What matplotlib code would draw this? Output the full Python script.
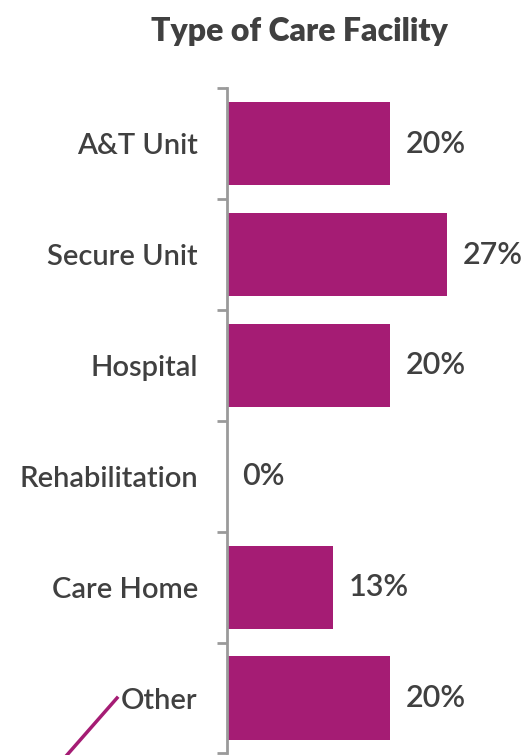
import matplotlib
matplotlib.use("Agg")
import matplotlib.pyplot as plt
from matplotlib.lines import Line2D
import numpy as np

categories = ["A&T Unit", "Secure Unit", "Hospital", "Rehabilitation", "Care Home", "Other"]
values = [20, 27, 20, 0, 13, 20]
value_labels = ["20%", "27%", "20%", "0%", "13%", "20%"]

bar_color = "#A51C74"
text_color = "#404040"
axis_color = "#9A9A9A"

plt.rcParams['font.family'] = ['Lato', 'DejaVu Sans']

fig = plt.figure(figsize=(5.28, 7.55), dpi=100)
ax = fig.add_axes([0.430, 0.002, 0.463, 0.881])

y = np.arange(len(categories))
ax.barh(y, values, height=0.75, color=bar_color)
ax.set_ylim(len(categories) - 0.5, -0.5)
ax.set_xlim(0, 30)

for yi, v, lab in zip(y, values, value_labels):
    ax.text(v + 1.9, yi, lab, va='center', ha='left', fontsize=22,
            fontweight='semibold', color=text_color)

ax.set_yticks(y)
ax.set_yticklabels(categories, fontsize=21, fontweight='semibold', color=text_color)
ax.tick_params(axis='y', which='major', length=0, pad=21)
ax.set_yticks(np.arange(-0.5, len(categories) + 0.5, 1), minor=True)
ax.tick_params(axis='y', which='minor', length=7, width=2, color=axis_color, direction='out')
ax.set_xticks([])
for s in ['top', 'right', 'bottom']:
    ax.spines[s].set_visible(False)
ax.spines['left'].set_color(axis_color)
ax.spines['left'].set_linewidth(2)

fig.text(0.568, 0.958, "Type of Care Facility", ha='center', va='center',
         fontsize=23, fontweight='heavy', color=text_color)

fig.add_artist(Line2D([67/528, 117/528], [1 - 755/755, 1 - 698/755],
                      transform=fig.transFigure, color=bar_color, linewidth=2.5))

fig.savefig("out.png", dpi=100)
